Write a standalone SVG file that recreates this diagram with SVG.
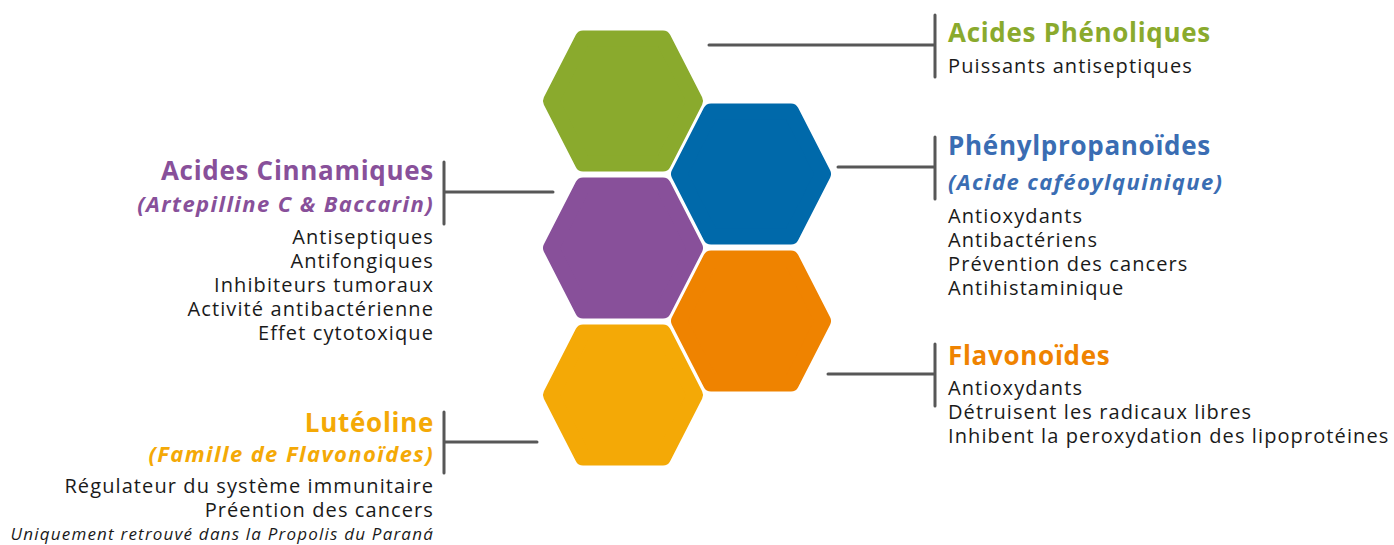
<svg xmlns="http://www.w3.org/2000/svg" width="1394" height="545" viewBox="0 0 1394 545">
<style>
text{font-family:"Open Sans","Noto Sans","DejaVu Sans",sans-serif;}
.t{font-weight:bold;font-size:26px;letter-spacing:0.7px;}
.s{font-weight:bold;font-style:italic;font-size:22px;letter-spacing:1.4px;}
.b{font-size:20px;fill:#1a1a1a;letter-spacing:1.1px;}
.n{font-style:italic;font-size:17px;fill:#1a1a1a;letter-spacing:1.2px;}
.r{text-anchor:end;}
.hex{stroke-width:16;stroke-linejoin:round;}
.con{stroke:#575757;stroke-width:3;fill:none;stroke-linecap:round;}
</style>
<defs>
<polygon id="hx" points="-72,0 -40,-62.5 40,-62.5 72,0 40,62.5 -40,62.5"/>
</defs>
<rect width="1394" height="545" fill="#ffffff"/>
<g id="connectors">
<path class="con" d="M709,45 H935 M935,15 V77"/>
<path class="con" d="M838,167 H935 M935,137 V199"/>
<path class="con" d="M828,374 H935 M935,344 V406"/>
<path class="con" d="M553,192 H444 M444,162 V224"/>
<path class="con" d="M537,442 H444 M444,412 V473"/>
</g>
<g id="hex-green"><use href="#hx" x="623" y="101" class="hex" fill="#8aaa2d" stroke="#8aaa2d"/></g>
<g id="hex-blue"><use href="#hx" x="751" y="174" class="hex" fill="#0069aa" stroke="#0069aa"/></g>
<g id="hex-purple"><use href="#hx" x="623" y="248" class="hex" fill="#88509a" stroke="#88509a"/></g>
<g id="hex-orange"><use href="#hx" x="751" y="321" class="hex" fill="#ef8300" stroke="#ef8300"/></g>
<g id="hex-yellow"><use href="#hx" x="623" y="395" class="hex" fill="#f4a906" stroke="#f4a906"/></g>
<g id="acides-phenoliques">
<text x="948" y="42" class="t" fill="#8aaa2d">Acides Phénoliques</text>
<text x="948" y="73" class="b">Puissants antiseptiques</text>
</g>
<g id="phenylpropanoides">
<text x="948" y="155" class="t" fill="#3a6db3">Phénylpropanoïdes</text>
<text x="948" y="190" class="s" fill="#3a6db3">(Acide caféoylquinique)</text>
<text x="948" y="223" class="b">Antioxydants</text>
<text x="948" y="247" class="b">Antibactériens</text>
<text x="948" y="271" class="b">Prévention des cancers</text>
<text x="948" y="295" class="b">Antihistaminique</text>
</g>
<g id="flavonoides">
<text x="948" y="365" class="t" fill="#ef8300">Flavonoïdes</text>
<text x="948" y="395" class="b">Antioxydants</text>
<text x="948" y="419" class="b">Détruisent les radicaux libres</text>
<text x="948" y="443" class="b">Inhibent la peroxydation des lipoprotéines</text>
</g>
<g id="acides-cinnamiques">
<text x="434" y="180" class="t r" fill="#88509a">Acides Cinnamiques</text>
<text x="434" y="212" class="s r" fill="#88509a">(Artepilline C &amp; Baccarin)</text>
<text x="434" y="244" class="b r">Antiseptiques</text>
<text x="434" y="268" class="b r">Antifongiques</text>
<text x="434" y="292" class="b r">Inhibiteurs tumoraux</text>
<text x="434" y="316" class="b r">Activité antibactérienne</text>
<text x="434" y="340" class="b r">Effet cytotoxique</text>
</g>
<g id="luteoline">
<text x="434" y="432" class="t r" fill="#f4a906">Lutéoline</text>
<text x="434" y="462" class="s r" fill="#f4a906">(Famille de Flavonoïdes)</text>
<text x="434" y="493" class="b r">Régulateur du système immunitaire</text>
<text x="434" y="517" class="b r">Préention des cancers</text>
<text x="434" y="540" class="n r">Uniquement retrouvé dans la Propolis du Paraná</text>
</g>
</svg>
